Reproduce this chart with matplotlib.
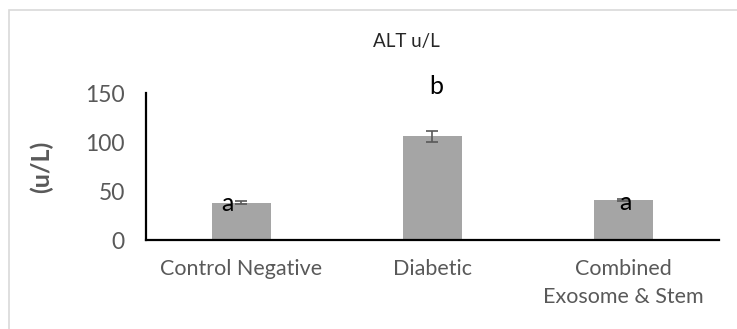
import numpy as np
import matplotlib.pyplot as plt
from matplotlib.patches import Rectangle

# Data
groups = ["Control Negative", "Diabetic", "Combined\nExosome & Stem"]
alt_means = [38, 106, 40.5]
alt_err = [1.5, 5.5, 1.0]
letters = ["a", "b", "a"]
letter_y = [37, 157, 38]
yticks = [0, 50, 100, 150]

plt.rcParams['font.family'] = ['Lato', 'DejaVu Sans']

fig = plt.figure(figsize=(7.37, 3.29), dpi=100)
ax = fig.add_axes([0.1977, 0.2705, 0.7779, 0.4465])

x = np.arange(len(groups))
ax.bar(x, alt_means, width=0.31, color='#A5A5A5', zorder=2)
ax.errorbar(x, alt_means, yerr=alt_err, fmt='none', ecolor='#595959',
            elinewidth=1.2, capsize=4, capthick=1.2, zorder=3)

offs = [-0.07, 0.02, 0.01]
for xi, lab, ly, o in zip(x, letters, letter_y, offs):
    ax.text(xi + o, ly, lab, ha='center', va='center', fontsize=18,
            color='black', clip_on=False, zorder=4)

ax.set_xlim(-0.5, 2.5)
ax.set_ylim(0, 150)
ax.set_yticks(yticks)
ax.set_xticks(x)
ax.set_xticklabels(groups, fontsize=15.5, color='#595959', linespacing=1.45)
ax.tick_params(axis='y', labelsize=16.5, labelcolor='#595959', length=0, pad=15)
ax.tick_params(axis='x', length=0, pad=14)
for s in ['top', 'right']:
    ax.spines[s].set_visible(False)
for s in ['left', 'bottom']:
    ax.spines[s].set_linewidth(1.6)
    ax.spines[s].set_color('black')

ax.set_ylabel("(u/L)", fontsize=18, fontweight='bold', color='#595959')
ax.yaxis.set_label_coords(-0.162, 0.5)

fig.text(406 / 737, 1 - 42 / 329, "ALT u/L", ha='center', va='center',
         fontsize=13.5, color='#262626')

# chart area border
fig.patches.append(Rectangle((9 / 737, -0.1), 1.2, 1 - 10 / 329 + 0.1,
                             transform=fig.transFigure, fill=False,
                             edgecolor='#D9D9D9', linewidth=1.2))

fig.savefig("out.png", dpi=100)
